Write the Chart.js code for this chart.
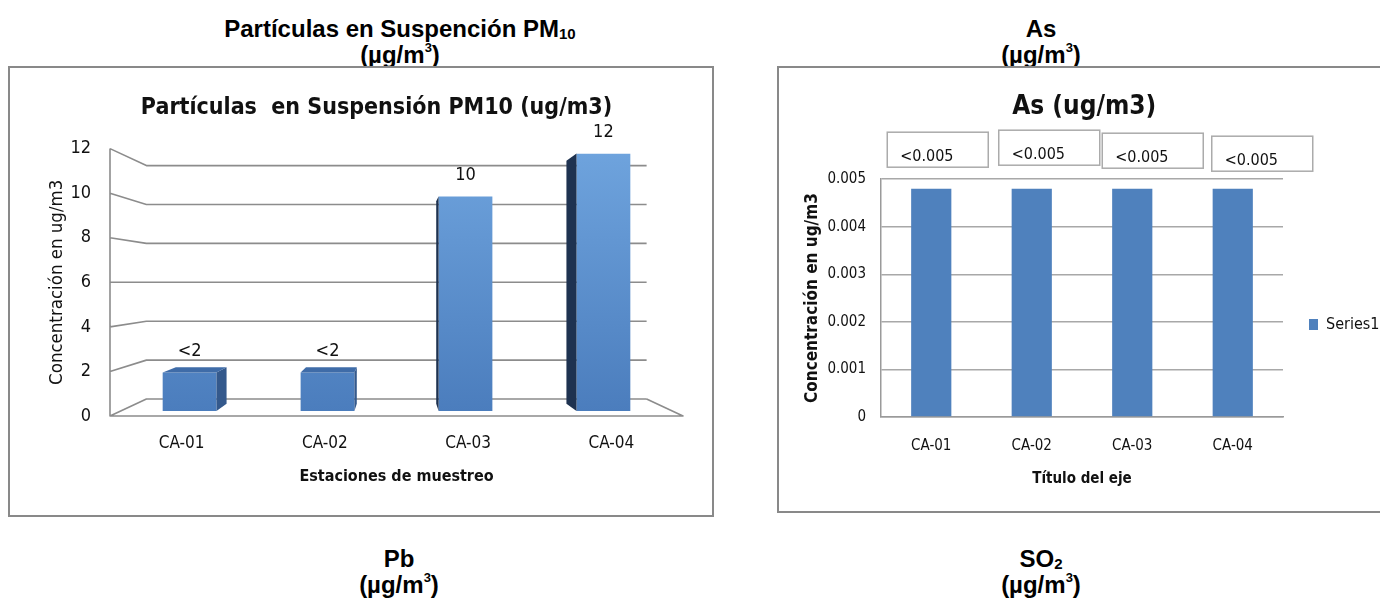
<!DOCTYPE html>
<html lang="es">
<head>
<meta charset="utf-8">
<title>Calidad del aire</title>
<script src="https://cdn.jsdelivr.net/npm/chart.js@4.4.1/dist/chart.umd.min.js"></script>
<style>
  html, body { margin: 0; padding: 0; background: #fff; }
  body { position: relative; width: 1380px; height: 599px; overflow: hidden;
         font-family: "Liberation Sans", Arial, sans-serif; }
  .hdr { position: absolute; width: 440px; text-align: center; font-weight: bold;
         font-size: 24px; line-height: 26px; color: #000; }
  .hdr sub { font-size: 15px; line-height: 0; vertical-align: -2px; }
  .hdr sup { font-size: 13px; line-height: 0; vertical-align: 11px; }
  .frame { position: absolute; border: 2px solid #898989; box-sizing: border-box; }
  canvas { position: absolute; }
</style>
</head>
<body>
<div class="hdr" style="left:180px;top:16px">Partículas en Suspención PM<sub>10</sub><br>(µg/m<sup>3</sup>)</div>
<div class="hdr" style="left:821px;top:16px">As<br>(µg/m<sup>3</sup>)</div>
<div class="hdr" style="left:179px;top:546px">Pb<br>(µg/m<sup>3</sup>)</div>
<div class="hdr" style="left:821px;top:546px">SO<sub>2</sub><br>(µg/m<sup>3</sup>)</div>

<div class="frame" style="left:8px;top:66px;width:706px;height:451px"></div>
<div class="frame" style="left:777px;top:66px;width:620px;height:447px"></div>

<div style="position:absolute;left:10px;top:68px;width:702px;height:447px"><canvas id="pm10"></canvas></div>
<div style="position:absolute;left:779px;top:68px;width:603px;height:443px"><canvas id="arsenico"></canvas></div>

<script>
// Estaciones de muestreo
const estaciones = ['CA-01', 'CA-02', 'CA-03', 'CA-04'];

// PM10 (ug/m3): las dos primeras estaciones quedan bajo el límite de detección (<2)
const pm10Valores = [1.8, 1.8, 10, 12];
const pm10Etiquetas = ['<2', '<2', '10', '12'];

// As (ug/m3): todas bajo el límite de detección (<0.005)
const asValores = [0.0048, 0.0048, 0.0048, 0.0048];
const asEtiquetas = ['<0.005', '<0.005', '<0.005', '<0.005'];

const NARROW = '"Liberation Sans Narrow", "DejaVu Sans Condensed", "Roboto Condensed", sans-serif';
const INK = '#111';

Chart.defaults.font.family = NARROW;
Chart.defaults.color = INK;
Chart.defaults.animation = false;

// Desplaza horizontalmente el bloque del título del gráfico
const moverTitulo = {
  id: 'moverTitulo',
  afterLayout(chart, args, o) {
    if (chart.titleBlock) { chart.titleBlock.left += o.dx; chart.titleBlock.right += o.dx; }
  }
};

// --- Columnas en perspectiva para PM10 ---------------------------------
// Las escalas describen el plano frontal; paredes y caras de las columnas
// se proyectan hacia el punto de fuga (centro del área de trazado).
const perspectiva = {
  id: 'perspectiva',
  beforeDatasetsDraw(chart, args, o) {
    const { ctx, chartArea: a, scales: { y } } = chart;
    const cx = (a.left + a.right) / 2, cy = (a.top + a.bottom) / 2;
    const P = (x, yy, k) => [cx + (x - cx) * k, cy + (yy - cy) * k];
    ctx.save();
    ctx.strokeStyle = o.gridColor;
    ctx.lineWidth = o.gridWidth;
    ctx.lineJoin = 'round';
    ctx.beginPath();
    y.ticks.forEach(t => {
      const yf = y.getPixelForValue(t.value);
      const b1 = P(a.left, yf, o.wall), b2 = P(a.right, yf, o.wall);
      ctx.moveTo(a.left, yf);
      ctx.lineTo(b1[0], b1[1]);
      ctx.lineTo(b2[0], b2[1]);
    });
    const fr = P(a.right, a.bottom, o.wall);
    ctx.moveTo(a.left, a.top);
    ctx.lineTo(a.left, a.bottom);
    ctx.lineTo(a.right, a.bottom);
    ctx.lineTo(fr[0], fr[1]);
    ctx.stroke();
    ctx.restore();
    // las caras frontales se dibujan ya proyectadas
    ctx.save();
    ctx.translate(cx, cy);
    ctx.scale(o.barFront, o.barFront);
    ctx.translate(-cx, -cy);
  },
  afterDatasetsDraw(chart, args, o) {
    const { ctx, chartArea: a } = chart;
    ctx.restore();
    const cx = (a.left + a.right) / 2, cy = (a.top + a.bottom) / 2;
    const P = (x, yy, k) => [cx + (x - cx) * k, cy + (yy - cy) * k];
    const poly = (pts, fill) => {
      ctx.beginPath();
      ctx.moveTo(pts[0][0], pts[0][1]);
      for (let i = 1; i < pts.length; i++) ctx.lineTo(pts[i][0], pts[i][1]);
      ctx.closePath();
      ctx.fillStyle = fill;
      ctx.fill();
    };
    const meta = chart.getDatasetMeta(0);
    const etiquetas = chart.data.datasets[0].etiquetas;
    ctx.save();
    meta.data.forEach((bar, i) => {
      const { x, y, base, width } = bar.getProps(['x', 'y', 'base', 'width'], true);
      const L = x - width / 2, R = x + width / 2;
      const kf = o.barFront, kb = o.barBack;
      // cara lateral visible
      if (R < cx) {
        poly([P(R, y, kf), P(R, y, kb), P(R, base, kb), P(R, base, kf)], o.sideRight);
      } else if (L > cx) {
        poly([P(L, y, kf), P(L, y, kb), P(L, base, kb), P(L, base, kf)], o.sideLeft);
      }
      // cara superior visible cuando queda bajo el punto de fuga
      if (y > cy) {
        poly([P(L, y, kf), P(R, y, kf), P(R, y, kb), P(L, y, kb)], o.topFace);
      }
      // etiqueta de valor
      const t = P(x, y, kf);
      ctx.fillStyle = INK;
      ctx.font = o.labelFont;
      ctx.textAlign = 'center';
      ctx.textBaseline = 'middle';
      ctx.fillText(etiquetas[i], t[0], t[1] - o.labelGap);
    });
    ctx.restore();
  }
};

function degradado(context) {
  const area = context.chart.chartArea;
  if (!area) return '#5585c6';
  const g = context.chart.ctx.createLinearGradient(0, area.top, 0, area.bottom);
  g.addColorStop(0, '#6ea3dd');
  g.addColorStop(1, '#4b7dbd');
  return g;
}

new Chart(document.getElementById('pm10'), {
  type: 'bar',
  data: {
    labels: estaciones,
    datasets: [{
      data: pm10Valores,
      etiquetas: pm10Etiquetas,
      backgroundColor: degradado,
      borderWidth: 0,
      barPercentage: 0.39,
      categoryPercentage: 1
    }]
  },
  options: {
    responsive: true,
    maintainAspectRatio: false,
    layout: { padding: { left: 0, right: 29, top: 0, bottom: 0 } },
    plugins: {
      legend: { display: false },
      tooltip: { enabled: false },
      title: {
        display: true,
        text: 'Partículas  en Suspensión PM10 (ug/m3)',
        font: { size: 23, weight: 'bold' },
        color: INK,
        padding: { top: 26, bottom: 27 }
      },
      moverTitulo: { dx: 30 },
      perspectiva: {
        wall: 0.873, barFront: 0.963, barBack: 0.909,
        gridColor: '#8c8c8c', gridWidth: 1.6,
        sideRight: '#34598c', sideLeft: '#1e3250', topFace: '#3f6ca8',
        labelFont: '18px ' + NARROW, labelGap: 21
      }
    },
    scales: {
      x: {
        grid: { display: false, drawTicks: false },
        border: { display: false },
        ticks: { font: { size: 17 }, padding: 17, color: INK },
        title: { display: true, text: 'Estaciones de muestreo',
                 font: { size: 16, weight: 'bold' }, padding: { top: 0, bottom: 29 }, color: INK },
        afterFit(s) { s.height = 99; }
      },
      y: {
        min: 0, max: 12,
        ticks: { stepSize: 2, font: { size: 18 }, padding: 19, color: INK },
        grid: { display: false, drawTicks: false },
        border: { display: false },
        title: { display: true, text: 'Concentración en ug/m3',
                 font: { size: 18.5 }, padding: { top: 36, bottom: 0 }, color: INK },
        afterFit(s) { s.width = 100; }
      }
    }
  },
  plugins: [moverTitulo, perspectiva]
});

// --- As: columnas planas con cuadros de etiqueta --------------------------
const cuadros = {
  id: 'cuadros',
  afterDatasetsDraw(chart, args, o) {
    const { ctx, chartArea: a } = chart;
    const meta = chart.getDatasetMeta(0);
    const etiquetas = chart.data.datasets[0].etiquetas;
    ctx.save();
    meta.data.forEach((bar, i) => {
      const left = bar.x + o.dx[i];
      const top = a.top + o.dy[i];
      ctx.fillStyle = '#fff';
      ctx.fillRect(left, top, o.w, o.h);
      ctx.strokeStyle = o.borderColor;
      ctx.lineWidth = 1.5;
      ctx.strokeRect(left, top, o.w, o.h);
      ctx.fillStyle = INK;
      ctx.font = o.font;
      ctx.textAlign = 'left';
      ctx.textBaseline = 'alphabetic';
      ctx.fillText(etiquetas[i], left + 13, top + 29);
    });
    ctx.restore();
  }
};

const desplazarLeyenda = {
  id: 'desplazarLeyenda',
  afterLayout(chart, args, o) {
    if (chart.legend) { chart.legend.top += o.dy; chart.legend.bottom += o.dy; }
  }
};

const medida = document.createElement('canvas').getContext('2d');
medida.font = '16px ' + NARROW;
const anchoLeyenda = 26 + 9 + 8 + medida.measureText('Series1').width + 10;

new Chart(document.getElementById('arsenico'), {
  type: 'bar',
  data: {
    labels: estaciones,
    datasets: [{
      label: 'Series1',
      data: asValores,
      etiquetas: asEtiquetas,
      backgroundColor: '#4f81bd',
      borderWidth: 0,
      barPercentage: 0.4,
      categoryPercentage: 1
    }]
  },
  options: {
    responsive: true,
    maintainAspectRatio: false,
    layout: { padding: { left: 0, right: 603 - 504 - anchoLeyenda, top: 0, bottom: 0 } },
    plugins: {
      legend: {
        position: 'right',
        labels: { boxWidth: 9, boxHeight: 11, padding: 26, font: { size: 16 }, color: INK }
      },
      tooltip: { enabled: false },
      title: {
        display: true,
        text: 'As (ug/m3)',
        font: { size: 26, weight: 'bold' },
        color: INK,
        padding: { top: 24, bottom: 56 }
      },
      cuadros: {
        dx: [-44, -33, -30, -21], dy: [-47, -49, -46, -43],
        w: 101, h: 35, borderColor: '#ababab', font: '16px ' + NARROW
      },
      desplazarLeyenda: { dy: 35 }
    },
    scales: {
      x: {
        grid: { display: false, drawTicks: false },
        border: { display: true, color: '#9a9a9a', width: 1.5 },
        ticks: { font: { size: 15 }, padding: 20, color: INK },
        title: { display: true, text: 'Título del eje',
                 font: { size: 15, weight: 'bold' }, padding: { top: 0, bottom: 23 }, color: INK },
        afterFit(s) { s.height = 94; }
      },
      y: {
        min: 0, max: 0.005,
        ticks: { stepSize: 0.001, font: { size: 15 }, padding: 15, color: INK },
        grid: { color: '#a8a8a8', lineWidth: 1.5, drawTicks: false },
        border: { display: true, color: '#9a9a9a', width: 1.5 },
        title: { display: true, text: 'Concentración en ug/m3',
                 font: { size: 17, weight: 'bold' }, padding: { top: 23, bottom: 0 }, color: INK },
        afterFit(s) { s.width = 102; }
      }
    }
  },
  plugins: [cuadros, desplazarLeyenda]
});
</script>
</body>
</html>
